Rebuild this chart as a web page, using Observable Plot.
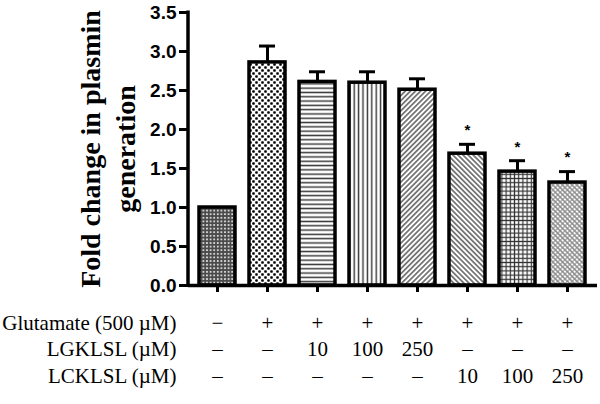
<!DOCTYPE html>
<html>
<head>
<meta charset="utf-8">
<script src="https://cdn.jsdelivr.net/npm/d3@7"></script>
<script src="https://cdn.jsdelivr.net/npm/@observablehq/plot@0.6"></script>
<style>
  html, body { margin: 0; padding: 0; background: #fff; }
  #chart { width: 600px; height: 404px; }
</style>
</head>
<body>
<div id="chart"></div>
<script>
// ---- data ----
const groups = ["Control", "Glu", "Glu+LG10", "Glu+LG100", "Glu+LG250", "Glu+LC10", "Glu+LC100", "Glu+LC250"];
const means = [1.00, 2.86, 2.61, 2.60, 2.51, 1.69, 1.46, 1.32];
const sems = [0.00, 0.21, 0.13, 0.14, 0.14, 0.12, 0.14, 0.14];
const significant = [false, false, false, false, false, true, true, true];
const glutamateRow = ["\u2212", "+", "+", "+", "+", "+", "+", "+"];
const lgklslRow = ["\u2013", "\u2013", "10", "100", "250", "\u2013", "\u2013", "\u2013"];
const lcklslRow = ["\u2013", "\u2013", "\u2013", "\u2013", "\u2013", "10", "100", "250"];
const rowLabels = ["Glutamate (500 \u00B5M)", "LGKLSL (\u00B5M)", "LCKLSL (\u00B5M)"];
const yTicks = [0, 0.5, 1.0, 1.5, 2.0, 2.5, 3.0, 3.5];
const yTitle = "Fold change in plasmin\ngeneration";

// ---- styles ----
const patternIds = ["p1", "p2", "p3", "p4", "p5", "p6", "p7", "p8"];
const data = groups.map((g, i) => ({
  group: g, mean: means[i], sem: sems[i], sig: significant[i],
  fill: `url(#${patternIds[i]})`
}));

const W = 600, H = 404;
const mL = 188, mR = 3, mT = 12, mB = 119;
const serif = "'Liberation Serif', 'Times New Roman', serif";
const sans = "'Liberation Sans', Arial, sans-serif";

const rows = [glutamateRow, lgklslRow, lcklslRow];
const rowDy = [44, 70, 97];

const marks = [
  Plot.barY(data, {x: "group", y: "mean", fill: "fill", stroke: "black", strokeWidth: 3.5}),
  Plot.ruleX(data.filter(d => d.sem > 0), {x: "group", y1: "mean", y2: d => d.mean + d.sem, strokeWidth: 3, stroke: "black"}),
  Plot.tickY(data.filter(d => d.sem > 0), {x: "group", y: d => d.mean + d.sem, strokeWidth: 3, stroke: "black", insetLeft: 10, insetRight: 10}),
  Plot.text(data.filter(d => d.sig), {x: "group", y: d => d.mean + d.sem, text: () => "*", dy: -14, fontSize: 15, fontWeight: "bold", fontFamily: sans}),
  Plot.ruleY([0], {strokeWidth: 3.5, stroke: "black"}),
  Plot.axisY({ticks: yTicks, tickFormat: d3.format(".1f"), tickSize: 9, tickPadding: 3, strokeWidth: 3,
    fontSize: 19, fontWeight: "bold", fontFamily: sans, label: null}),
  Plot.axisX({tickSize: 7, tickFormat: () => "", strokeWidth: 3, label: null, tickPadding: 0}),
  Plot.text([yTitle], {frameAnchor: "left", rotate: -90, dx: -82, fontSize: 28, fontWeight: "bold",
    fontFamily: serif, lineHeight: 1.25, textAnchor: "middle"}),
  ...rowLabels.map((lab, r) => Plot.text([lab], {frameAnchor: "bottom-left", dx: -12, dy: rowDy[r],
    textAnchor: "end", fontSize: 21, fontFamily: serif})),
  ...rows.map((row, r) => Plot.text(groups, {x: d => d, text: (d, i) => row[i], frameAnchor: "bottom",
    dy: rowDy[r], fontSize: 21, fontFamily: serif}))
];

const svg = Plot.plot({
  width: W, height: H,
  marginLeft: mL, marginRight: mR, marginTop: mT, marginBottom: mB,
  style: {background: "white", color: "black", overflow: "visible"},
  x: {domain: groups, paddingInner: 0.2885, paddingOuter: 0.186, align: 0.46, axis: null},
  y: {domain: [0, 3.5], axis: null},
  color: {type: "identity"},
  marks
});

// pattern definitions
const s = d3.select(svg);
const defs = s.insert("defs", ":first-child");
function pat(id, w, h, build, transform) {
  const p = defs.append("pattern").attr("id", id).attr("patternUnits", "userSpaceOnUse")
    .attr("width", w).attr("height", h);
  if (transform) p.attr("patternTransform", transform);
  p.append("rect").attr("width", w).attr("height", h).attr("fill", "white");
  build(p);
}
pat("p1", 3.6, 3.6, p => {
  p.select("rect").attr("fill", "#4a4a4a");
  p.append("circle").attr("cx", 1.8).attr("cy", 1.8).attr("r", 1.0).attr("fill", "#f4f4f4");
});
pat("p2", 6, 6, p => {
  p.append("rect").attr("x", 0.2).attr("y", 0.2).attr("width", 2.6).attr("height", 2.6).attr("rx", 0.8).attr("fill", "black");
  p.append("rect").attr("x", 3.2).attr("y", 3.2).attr("width", 2.6).attr("height", 2.6).attr("rx", 0.8).attr("fill", "black");
});
pat("p3", 10, 4.3, p => {
  p.append("rect").attr("x", 0).attr("y", 1.4).attr("width", 10).attr("height", 1.5).attr("fill", "#3a3a3a");
});
pat("p4", 4.4, 10, p => {
  p.append("rect").attr("x", 1.5).attr("y", 0).attr("width", 1.4).attr("height", 10).attr("fill", "#333");
});
pat("p5", 3.6, 10, p => {
  p.append("rect").attr("x", 1.2).attr("y", 0).attr("width", 1.2).attr("height", 10).attr("fill", "#333");
}, "rotate(45)");
pat("p6", 3.6, 10, p => {
  p.append("rect").attr("x", 1.2).attr("y", 0).attr("width", 1.2).attr("height", 10).attr("fill", "#333");
}, "rotate(-45)");
pat("p7", 4.2, 4.2, p => {
  p.append("rect").attr("x", 0).attr("y", 1.5).attr("width", 4.2).attr("height", 1.2).attr("fill", "#333");
  p.append("rect").attr("x", 1.5).attr("y", 0).attr("width", 1.2).attr("height", 4.2).attr("fill", "#333");
});
pat("p8", 3.4, 3.4, p => {
  p.append("rect").attr("x", 0).attr("y", 1.2).attr("width", 3.4).attr("height", 1.0).attr("fill", "#555");
  p.append("rect").attr("x", 1.2).attr("y", 0).attr("width", 1.0).attr("height", 3.4).attr("fill", "#888");
}, "rotate(45)");

// y axis line
s.append("line").attr("x1", mL).attr("x2", mL).attr("y1", mT - 1.5).attr("y2", H - mB + 1.75)
  .attr("stroke", "black").attr("stroke-width", 3.5);

document.getElementById("chart").appendChild(svg);
</script>
</body>
</html>
